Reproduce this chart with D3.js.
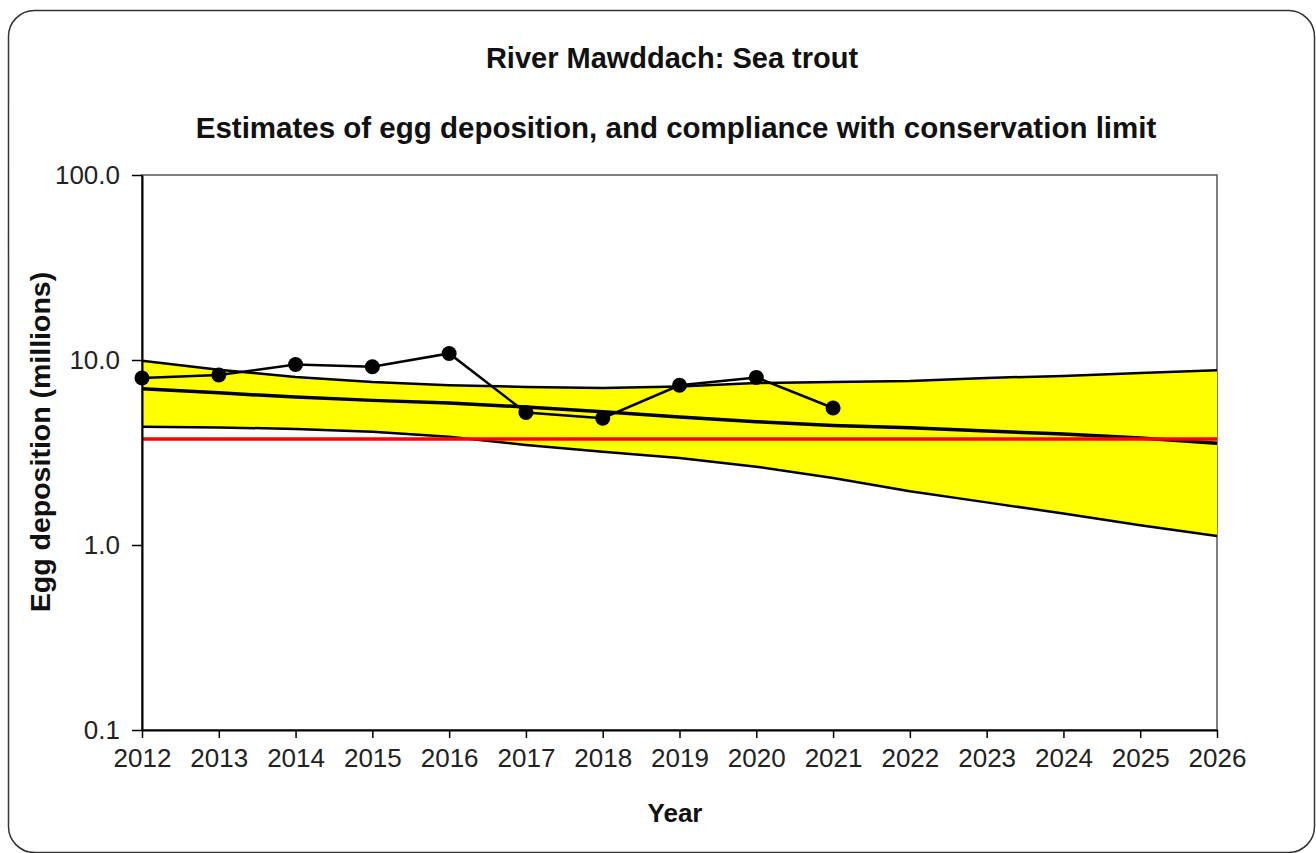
<!DOCTYPE html>
<html>
<head>
<meta charset="utf-8">
<script src="https://d3js.org/d3.v7.min.js"></script>
<style>
  body { margin: 0; background: #fff; }
  text { font-family: "Liberation Sans", Arial, sans-serif; }
</style>
</head>
<body>
<div id="chart"></div>
<script>
// data (millions of eggs)
var years = [2012, 2013, 2014, 2015, 2016, 2017, 2018, 2019, 2020, 2021];
var eggs = [8.0, 8.3, 9.45, 9.2, 10.85, 5.2, 4.85, 7.3, 8.05, 5.5];

var projYears = [2012, 2013, 2014, 2015, 2016, 2017, 2018, 2019, 2020, 2021, 2022, 2023, 2024, 2025, 2026];
var upperBound = [9.9, 8.85, 8.1, 7.6, 7.3, 7.15, 7.05, 7.2, 7.5, 7.6, 7.7, 8.0, 8.2, 8.5, 8.8];
var trend = [7.0, 6.65, 6.3, 6.05, 5.85, 5.57, 5.25, 4.92, 4.64, 4.42, 4.3, 4.13, 3.98, 3.79, 3.55];
var lowerBound = [4.36, 4.32, 4.24, 4.1, 3.85, 3.47, 3.19, 2.95, 2.65, 2.3, 1.95, 1.7, 1.48, 1.28, 1.12];

var conservationLimit = 3.74;
var yTicks = [0.1, 1, 10, 100];

var W = 1316, H = 853;
var margin = {top: 175, right: 99, bottom: 123, left: 142};
var width = W - margin.left - margin.right,
    height = H - margin.top - margin.bottom;

var svg = d3.select("#chart").append("svg")
  .attr("width", W)
  .attr("height", H);

// outer rounded frame
svg.append("rect")
  .attr("x", 8.5).attr("y", 10.5)
  .attr("width", 1306).attr("height", 842)
  .attr("rx", 26).attr("ry", 26)
  .style("fill", "none")
  .style("stroke", "#333")
  .style("stroke-width", 1.5);

svg.append("text")
  .attr("x", 672).attr("y", 68)
  .attr("text-anchor", "middle")
  .style("font-size", "29px").style("font-weight", "bold")
  .style("fill", "#111")
  .text("River Mawddach: Sea trout");

svg.append("text")
  .attr("x", 676).attr("y", 138)
  .attr("text-anchor", "middle")
  .style("font-size", "29.5px").style("font-weight", "bold")
  .style("fill", "#111")
  .text("Estimates of egg deposition, and compliance with conservation limit");

var g = svg.append("g")
  .attr("transform", "translate(" + margin.left + "," + margin.top + ")");

var x = d3.scaleLinear().domain([2012, 2026]).range([0, width]);
var y = d3.scaleLog().domain([0.1, 100]).range([height, 0]);

// plot area border (top / right)
g.append("rect")
  .attr("width", width).attr("height", height)
  .style("fill", "none")
  .style("stroke", "#555")
  .style("stroke-width", 1.5);

// confidence band
var band = projYears.map(function(d, i) { return {yr: d, hi: upperBound[i], lo: lowerBound[i], t: trend[i]}; });

g.append("path")
  .datum(band)
  .attr("d", d3.area()
    .x(function(d) { return x(d.yr); })
    .y0(function(d) { return y(d.lo); })
    .y1(function(d) { return y(d.hi); }))
  .style("fill", "#ffff00");

["hi", "lo"].forEach(function(k) {
  g.append("path")
    .datum(band)
    .attr("d", d3.line().x(function(d) { return x(d.yr); }).y(function(d) { return y(d[k]); }))
    .style("fill", "none").style("stroke", "#000").style("stroke-width", 2.5);
});

g.append("path")
  .datum(band)
  .attr("d", d3.line().x(function(d) { return x(d.yr); }).y(function(d) { return y(d.t); }))
  .style("fill", "none").style("stroke", "#000").style("stroke-width", 3.5);

// conservation limit
g.append("line")
  .attr("x1", 0).attr("x2", width)
  .attr("y1", y(conservationLimit)).attr("y2", y(conservationLimit))
  .style("stroke", "#ff0000").style("stroke-width", 3.5);

// observed series
var obs = years.map(function(d, i) { return {yr: d, v: eggs[i]}; });
g.append("path")
  .datum(obs)
  .attr("d", d3.line().x(function(d) { return x(d.yr); }).y(function(d) { return y(d.v); }))
  .style("fill", "none").style("stroke", "#000").style("stroke-width", 2.5);

g.selectAll(".dot")
  .data(obs)
  .enter().append("circle")
    .attr("cx", function(d) { return x(d.yr); })
    .attr("cy", function(d) { return y(d.v); })
    .attr("r", 7.5)
    .style("fill", "#000");

// axes
var xAxis = g.append("g")
  .attr("transform", "translate(0," + height + ")")
  .call(d3.axisBottom(x).ticks(14).tickFormat(d3.format("d")).tickSize(8).tickSizeOuter(0).tickPadding(11));

var yAxis = g.append("g")
  .call(d3.axisLeft(y).tickValues(yTicks).tickFormat(d3.format(".1f")).tickSize(10).tickSizeOuter(0).tickPadding(12));

[xAxis, yAxis].forEach(function(a) {
  a.select(".domain").style("stroke", "#000").style("stroke-width", 2);
  a.selectAll(".tick line").style("stroke", "#000").style("stroke-width", 1.5);
  a.selectAll("text")
    .style("font-family", "'Liberation Sans', Arial, sans-serif")
    .style("font-size", "26px")
    .style("fill", "#222");
});

svg.append("text")
  .attr("x", 675).attr("y", 822)
  .attr("text-anchor", "middle")
  .style("font-size", "26px").style("font-weight", "bold")
  .style("fill", "#111")
  .text("Year");

svg.append("text")
  .attr("transform", "translate(50,442) rotate(-90)")
  .attr("text-anchor", "middle")
  .style("font-size", "28.5px").style("font-weight", "bold")
  .style("fill", "#111")
  .text("Egg deposition  (millions)");
</script>
</body>
</html>
